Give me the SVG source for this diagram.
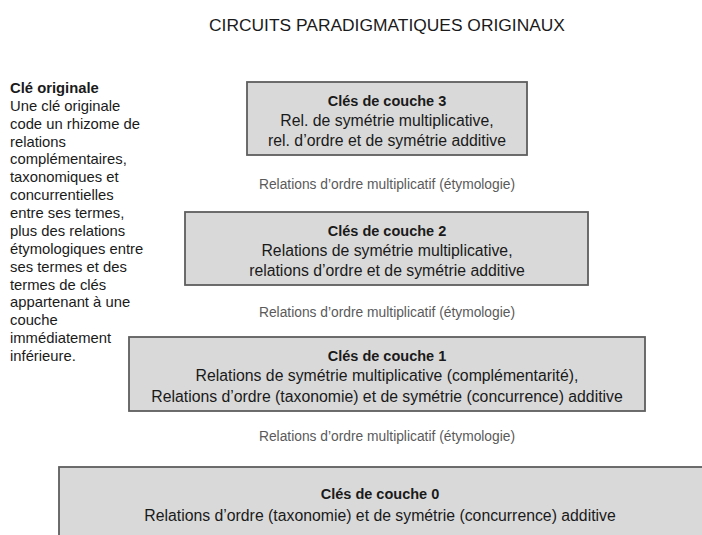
<svg xmlns="http://www.w3.org/2000/svg" width="702" height="535" viewBox="0 0 702 535">
  <style>
    .bg { fill: #ffffff; }
    .box { fill: #d9d9d9; stroke: #5e5e5e; stroke-width: 1.8; }
    .t { font-family: "Liberation Sans", Arial, sans-serif; fill: #1a1a1a; }
    .title { font-size: 17.4px; text-anchor: middle; }
    .head { font-size: 14.5px; font-weight: bold; text-anchor: middle; }
    .line { font-size: 15.8px; text-anchor: middle; }
    .rel { font-family: "Liberation Sans", Arial, sans-serif; font-size: 13.8px; fill: #5a5a5a; text-anchor: middle; }
    .note { font-size: 14.8px; }
    .note-head { font-weight: bold; }
  </style>
  <rect class="bg" x="0" y="0" width="702" height="535"/>

  <text class="t title" x="387" y="31">CIRCUITS PARADIGMATIQUES ORIGINAUX</text>

  <!-- side note -->
  <g id="note">
    <text class="t note" x="10" y="93">
      <tspan class="note-head" x="10" y="93">Clé originale</tspan>
      <tspan x="10" dy="17.87">Une clé originale</tspan>
      <tspan x="10" dy="17.87">code un rhizome de</tspan>
      <tspan x="10" dy="17.87">relations</tspan>
      <tspan x="10" dy="17.87">complémentaires,</tspan>
      <tspan x="10" dy="17.87">taxonomiques et</tspan>
      <tspan x="10" dy="17.87">concurrentielles</tspan>
      <tspan x="10" dy="17.87">entre ses termes,</tspan>
      <tspan x="10" dy="17.87">plus des relations</tspan>
      <tspan x="10" dy="17.87">étymologiques entre</tspan>
      <tspan x="10" dy="17.87">ses termes et des</tspan>
      <tspan x="10" dy="17.87">termes de clés</tspan>
      <tspan x="10" dy="17.87">appartenant à une</tspan>
      <tspan x="10" dy="17.87">couche</tspan>
      <tspan x="10" dy="17.87">immédiatement</tspan>
      <tspan x="10" dy="17.87">inférieure.</tspan>
    </text>
  </g>

  <!-- layer 3 -->
  <g id="layer3">
    <rect class="box" x="247" y="82" width="280" height="73"/>
    <text class="t head" x="387" y="106">Clés de couche 3</text>
    <text class="t line" x="387" y="126">Rel. de symétrie multiplicative,</text>
    <text class="t line" x="387" y="146">rel. d’ordre et de symétrie additive</text>
  </g>

  <!-- layer 2 -->
  <g id="layer2">
    <rect class="box" x="185" y="212" width="403" height="73"/>
    <text class="t head" x="387" y="236">Clés de couche 2</text>
    <text class="t line" x="387" y="256">Relations de symétrie multiplicative,</text>
    <text class="t line" x="387" y="276">relations d’ordre et de symétrie additive</text>
  </g>

  <!-- layer 1 -->
  <g id="layer1">
    <rect class="box" x="129" y="337" width="516" height="74"/>
    <text class="t head" x="387" y="361">Clés de couche 1</text>
    <text class="t line" x="387" y="381">Relations de symétrie multiplicative (complémentarité),</text>
    <text class="t line" x="387" y="402">Relations d’ordre (taxonomie) et de symétrie (concurrence) additive</text>
  </g>

  <!-- layer 0 (runs off the right and bottom edges) -->
  <g id="layer0">
    <rect class="box" x="59" y="467" width="660" height="90"/>
    <text class="t head" x="380" y="499">Clés de couche 0</text>
    <text class="t line" x="380" y="521">Relations d’ordre (taxonomie) et de symétrie (concurrence) additive</text>
  </g>

  <!-- relations between consecutive layers -->
  <g id="connectors">
    <text class="rel" x="387" y="189">Relations d’ordre multiplicatif (étymologie)</text>
    <text class="rel" x="387" y="317">Relations d’ordre multiplicatif (étymologie)</text>
    <text class="rel" x="387" y="441">Relations d’ordre multiplicatif (étymologie)</text>
  </g>
</svg>
